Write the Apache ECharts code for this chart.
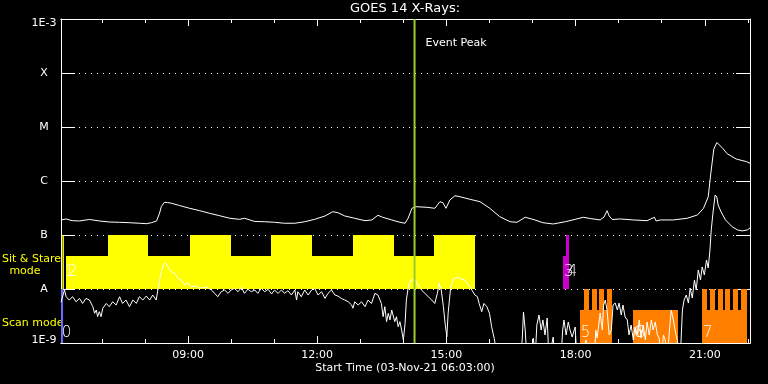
<!DOCTYPE html>
<html><head><meta charset="utf-8">
<script src="https://cdn.jsdelivr.net/npm/echarts@6/dist/echarts.min.js"></script>
<style>html,body{margin:0;padding:0;background:#000}#c{width:768px;height:384px}</style>
</head><body><div id="c"></div>
<script>
const chartTitle = 'GOES 14 X-Rays:';
const xTitle = 'Start Time (03-Nov-21 06:03:00)';
const tStart = 6.05, tEnd = 22.05;            // decimal hours, 03-Nov-21
const majorHours = [9, 12, 15, 18, 21];
const minorHours = [7, 8, 10, 11, 13, 14, 16, 17, 19, 20, 22];
const yTickLabels = ['1E-9', 'A', 'B', 'C', 'M', 'X', '1E-3'];
const eventPeak = 14.26;
const eventText = 'Event Peak';

// GOES long channel (1-8 A), [hour, W/m^2]
const longChannel = [
[6.05,1.90e-7],[6.17,1.98e-7],[6.31,1.84e-7],[6.48,1.82e-7],[6.71,1.94e-7],[6.94,1.82e-7],[7.17,1.74e-7],[7.41,1.72e-7],[7.64,1.69e-7],[7.87,1.65e-7],
[8.04,1.62e-7],[8.15,1.69e-7],[8.27,1.82e-7],[8.34,2.56e-7],[8.38,3.37e-7],[8.45,4.03e-7],[8.52,4.0e-7],[8.62,3.86e-7],[8.8,3.52e-7],[9.04,3.12e-7],
[9.27,2.82e-7],[9.5,2.52e-7],[9.73,2.28e-7],[9.97,2.04e-7],[10.2,1.95e-7],[10.31,2.04e-7],[10.55,1.78e-7],[10.78,1.76e-7],[11.01,1.72e-7],[11.24,1.65e-7],
[11.48,1.65e-7],[11.71,1.76e-7],[11.94,1.95e-7],[12.18,2.25e-7],[12.36,2.70e-7],[12.48,2.59e-7],[12.64,2.25e-7],[12.87,2.04e-7],[13.11,1.84e-7],[13.27,1.90e-7],
[13.41,2.32e-7],[13.52,2.13e-7],[13.73,1.90e-7],[13.92,1.72e-7],[14.04,1.65e-7],[14.11,2.04e-7],[14.2,3.12e-7],[14.29,3.34e-7],[14.55,3.26e-7],[14.73,3.12e-7],
[14.85,4.14e-7],[14.92,3.96e-7],[14.99,3.12e-7],[15.08,4.45e-7],[15.2,5.34e-7],[15.31,5.12e-7],[15.55,4.58e-7],[15.78,4.14e-7],[16.01,3.12e-7],[16.24,2.18e-7],
[16.48,1.76e-7],[16.64,1.72e-7],[16.83,2.13e-7],[17.01,1.95e-7],[17.24,1.69e-7],[17.48,1.60e-7],[17.76,1.76e-7],[17.99,1.95e-7],[18.18,2.13e-7],[18.34,2.02e-7],
[18.57,1.90e-7],[18.66,2.15e-7],[18.73,2.82e-7],[18.78,2.25e-7],[18.85,1.94e-7],[19.04,1.98e-7],[19.34,1.90e-7],[19.66,1.84e-7],[19.83,2.13e-7],[19.87,1.82e-7],
[19.97,1.90e-7],[20.27,1.90e-7],[20.59,2.04e-7],[20.83,2.35e-7],[20.97,3.12e-7],[21.08,5.12e-7],[21.14,1.39e-6],[21.21,3.91e-6],[21.28,5.16e-6],[21.4,4.17e-6],
[21.52,3.20e-6],[21.73,2.55e-6],[21.97,2.28e-6],[22.05,2.13e-6]
];

// GOES short channel (0.5-4 A), [hour, W/m^2]
const shortChannel = [
[6.05,5.7e-9],[6.08,5.5e-9],[6.13,9.6e-9],[6.17,7.2e-9],[6.24,6.25e-9],[6.32,7.2e-9],[6.4,5.8e-9],[6.48,6.7e-9],[6.55,5.4e-9],[6.63,6.7e-9],
[6.71,6.25e-9],[6.79,4.7e-9],[6.83,3.55e-9],[6.87,4.08e-9],[6.9,3.07e-9],[6.94,3.8e-9],[6.98,3.07e-9],[7.02,4.4e-9],[7.1,5.4e-9],[7.17,4.7e-9],
[7.25,5.8e-9],[7.33,5.05e-9],[7.41,7.2e-9],[7.48,5.4e-9],[7.56,6.25e-9],[7.64,4.7e-9],[7.72,6.25e-9],[7.8,5.4e-9],[7.87,7.2e-9],[7.95,6.25e-9],
[8.03,7.4e-9],[8.11,6.25e-9],[8.18,7.74e-9],[8.26,6.25e-9],[8.3,9.6e-9],[8.34,1.47e-8],[8.38,2.09e-8],[8.43,2.9e-8],[8.48,2.99e-8],[8.53,2.59e-8],
[8.61,2.09e-8],[8.69,1.95e-8],[8.76,1.58e-8],[8.84,1.47e-8],[8.92,1.19e-8],[9.0,1.31e-8],[9.07,1.1e-8],[9.19,1.14e-8],[9.31,1.03e-8],[9.42,1.1e-8],
[9.54,9.6e-9],[9.62,8.3e-9],[9.69,7.2e-9],[9.77,8.9e-9],[9.85,9.6e-9],[9.93,8.3e-9],[10.0,9.6e-9],[10.08,1.03e-8],[10.16,8.9e-9],[10.24,1.07e-8],
[10.31,8.3e-9],[10.39,9.9e-9],[10.47,8.9e-9],[10.55,9.6e-9],[10.62,8.3e-9],[10.7,1.03e-8],[10.78,8.9e-9],[10.86,9.9e-9],[10.94,8.1e-9],[11.01,9.6e-9],
[11.09,8.3e-9],[11.17,9.6e-9],[11.24,8.3e-9],[11.32,9.3e-9],[11.4,7.74e-9],[11.48,9.6e-9],[11.52,6.25e-9],[11.55,8.9e-9],[11.63,7.2e-9],[11.71,9.6e-9],
[11.79,7.74e-9],[11.87,9.6e-9],[11.94,1.03e-8],[12.02,7.74e-9],[12.1,8.9e-9],[12.18,6.7e-9],[12.25,8.3e-9],[12.33,9.6e-9],[12.41,7.74e-9],[12.48,7.4e-9],
[12.56,6.7e-9],[12.64,6.25e-9],[12.72,5.8e-9],[12.8,5.05e-9],[12.83,4.4e-9],[12.87,5.8e-9],[12.95,5.05e-9],[13.03,5.8e-9],[13.11,4.7e-9],[13.18,6.25e-9],
[13.26,5.4e-9],[13.34,8.3e-9],[13.41,7.74e-9],[13.49,5.4e-9],[13.53,3.07e-9],[13.57,4.7e-9],[13.61,2.48e-9],[13.65,3.55e-9],[13.69,2.67e-9],[13.73,4.08e-9],
[13.8,2.48e-9],[13.84,3.07e-9],[13.88,2.0e-9],[13.92,2.48e-9],[13.96,1.74e-9],[14.0,1.14e-9],[14.04,2.3e-9],[14.07,6.25e-9],[14.11,1.03e-8],[14.17,1.47e-8],
[14.21,1.58e-8],[14.27,1.47e-8],[14.34,1.19e-8],[14.42,9.6e-9],[14.5,8.3e-9],[14.58,7.2e-9],[14.66,6.25e-9],[14.73,5.4e-9],[14.79,8.3e-9],[14.83,1.27e-8],
[14.88,9.6e-9],[14.93,4.7e-9],[14.97,2.3e-9],[15.01,1.31e-9],[15.04,3.55e-9],[15.1,1.1e-8],[15.17,1.58e-8],[15.27,1.62e-8],[15.35,1.53e-8],[15.43,1.47e-8],
[15.51,1.19e-8],[15.59,9.6e-9],[15.66,7.74e-9],[15.72,7.2e-9],[15.76,5.4e-9],[15.82,3.8e-9],[15.87,5.4e-9],[15.94,4.7e-9],[16.0,3.55e-9],[16.05,2.0e-9],
[16.11,1.22e-9],[16.15,8e-10],[16.24,5e-10],[16.71,5e-10],[16.76,1.14e-9],[16.79,3.75e-9],[16.83,1.74e-9],[16.87,5e-10],[16.99,5e-10],[17.02,1.24e-9],
[17.06,5e-10],[17.1,2.15e-9],[17.15,3.3e-9],[17.2,1.74e-9],[17.24,2.67e-9],[17.29,1.41e-9],[17.34,2.9e-9],[17.38,5e-10],[17.48,1.29e-9],[17.52,5e-10],
[17.66,5e-10],[17.7,1.74e-9],[17.73,2.67e-9],[17.78,1.41e-9],[17.83,2.45e-9],[17.87,1.74e-9],[17.92,1.29e-9],[17.99,1.98e-9],[18.03,5e-10],[18.2,5e-10],
[18.24,1.14e-9],[18.29,5e-10],[18.43,5e-10],[18.47,1.74e-9],[18.5,1.24e-9],[18.57,3.59e-9],[18.62,1.74e-9],[18.65,5.05e-9],[18.69,6.25e-9],[18.73,4.08e-9],
[18.78,1.41e-9],[18.83,1.74e-9],[18.87,5.05e-9],[18.92,5.5e-9],[18.97,4.08e-9],[19.01,5.5e-9],[19.06,3.3e-9],[19.1,5.05e-9],[19.15,3.03e-9],[19.2,2.67e-9],
[19.24,1.41e-9],[19.29,2.15e-9],[19.34,1.14e-9],[19.38,1.98e-9],[19.43,1.41e-9],[19.48,2.67e-9],[19.52,1.24e-9],[19.57,2.15e-9],[19.62,1.14e-9],[19.66,2.45e-9],
[19.71,1.41e-9],[19.76,2.67e-9],[19.8,1.74e-9],[19.85,2.45e-9],[19.9,1.41e-9],[19.94,1.24e-9],[19.99,5e-10],[20.04,1.41e-9],[20.08,1.14e-9],[20.13,5e-10],
[20.18,1.74e-9],[20.22,4.08e-9],[20.27,2.67e-9],[20.31,1.74e-9],[20.36,1.14e-9],[20.43,5e-10],[20.48,4.08e-9],[20.52,6.25e-9],[20.57,7.74e-9],[20.62,5.5e-9],
[20.66,1.04e-8],[20.71,6.8e-9],[20.76,1.47e-8],[20.8,9.6e-9],[20.85,2.25e-8],[20.9,1.47e-8],[20.94,2.55e-8],[20.99,1.82e-8],[21.04,3.44e-8],[21.08,2.45e-8],
[21.12,5.27e-8],[21.15,1.24e-7],[21.19,2.55e-7],[21.24,5.5e-7],[21.28,5.05e-7],[21.31,3.59e-7],[21.38,2.67e-7],[21.48,1.9e-7],[21.64,1.41e-7],[21.76,1.24e-7],
[21.87,1.19e-7],[21.99,1.24e-7],[22.05,1.35e-7]
];

// Observing-mode blocks: [start hour, end hour, bottom flux, top flux]
const sitStareBlocks = [
[6.17,7.13,1e-8,4.08e-8],[7.13,8.08,1e-8,1e-7],[8.08,9.04,1e-8,4.08e-8],[9.04,9.99,1e-8,1e-7],[9.99,10.92,1e-8,4.08e-8],
[10.92,11.88,1e-8,1e-7],[11.88,12.83,1e-8,4.08e-8],[12.83,13.78,1e-8,1e-7],[13.78,14.71,1e-8,4.08e-8],[14.71,15.66,1e-8,1e-7]
];
const magentaBlocks = [[17.71,17.85,1e-8,4.08e-8],[17.78,17.85,1e-8,1e-7]];
const scanBlocks = [
[18.105,18.85,1e-9,4.08e-9],[18.2,18.31,1e-9,1e-8],[18.38,18.5,1e-9,1e-8],[18.55,18.66,1e-9,1e-8],[18.73,18.85,1e-9,1e-8],
[19.34,20.38,1e-9,4.08e-9],
[20.94,21.97,1e-9,4.08e-9],[20.94,21.06,1e-9,1e-8],[21.13,21.24,1e-9,1e-8],[21.31,21.43,1e-9,1e-8],[21.48,21.59,1e-9,1e-8],[21.66,21.78,1e-9,1e-8],[21.83,21.97,1e-9,1e-8]
];
const blueLine = [[6.075,1e-9],[6.075,1e-8]];
const yellowLine = [[6.1,1e-8],[6.1,1e-7]];
const peakLine = [[eventPeak,1e-9],[eventPeak,1e-3]];

// Block labels
const blockLabelPos = [[6.07,1.53e-9],[6.13,2.07e-8],[6.21,2.07e-8],[17.73,2.07e-8],[17.82,2.07e-8],[18.12,1.53e-9],[19.35,1.53e-9],[19.4,1.53e-9],[20.96,1.53e-9]];
const blockLabelText = ['0','1','2','3','4','5','6','8','7'];

const FF = '"DejaVu Sans", sans-serif';
const chart = echarts.init(document.getElementById('c'), null, {renderer: 'canvas'});

function blockRender(params, api) {
  const p0 = api.coord([api.value(0), api.value(3)]);
  const p1 = api.coord([api.value(1), api.value(2)]);
  const x0 = Math.round(p0[0]), x1 = Math.round(p1[0]);
  const y0 = Math.round(p0[1]), y1 = Math.round(p1[1]);
  const cs = params.coordSys;
  const shape = echarts.graphic.clipRectByRect(
    {x: x0, y: y0, width: x1 - x0, height: y1 - y0},
    {x: cs.x, y: cs.y, width: cs.width, height: cs.height});
  return shape && {type: 'rect', shape: shape, style: {fill: api.visual('color'), stroke: null}};
}
function blockSeries(data, color) {
  return {type: 'custom', data: data, renderItem: blockRender, itemStyle: {color: color},
    encode: {x: [0, 1], y: [2, 3]}, silent: true, z: 2, animation: false};
}
function lineSeries(data, color, width, z) {
  return {type: 'line', data: data, showSymbol: false, symbol: 'none', clip: true, z: z,
    lineStyle: {color: color, width: width}, animation: false, silent: true};
}
function xAx(pos, ticks, len, labels) {
  return {type: 'value', position: pos, min: tStart, max: tEnd,
    axisLine: {show: true, lineStyle: {color: '#fff', width: 1}},
    axisTick: {show: true, inside: true, length: len, customValues: ticks, lineStyle: {color: '#fff'}},
    axisLabel: labels ? {show: true, customValues: ticks, color: '#fff', fontSize: 11, fontFamily: FF, margin: 7,
      formatter: v => String(Math.round(v)).padStart(2, '0') + ':00'} : {show: false},
    splitLine: {show: false}};
}
function yAx(pos, isMain) {
  return {type: 'log', logBase: 10, position: pos, min: 1e-9, max: 1e-3, splitNumber: 6,
    axisLine: {show: true, lineStyle: {color: '#fff', width: 1}},
    axisTick: {show: true, inside: true, length: 14, lineStyle: {color: '#fff'}},
    axisLabel: isMain ? {show: true, color: '#fff', fontSize: 11, fontFamily: FF, margin: 17, align: 'center',
      formatter: v => {
        const i = Math.round(Math.log10(v)) + 9;
        if (i === 0) return '{b|' + yTickLabels[i] + '}';
        if (i === 6) return '{t|' + yTickLabels[i] + '}';
        return yTickLabels[i];
      },
      rich: {t: {color: '#fff', fontSize: 11, fontFamily: FF, padding: [8, 0, 0, 0]},
             b: {color: '#fff', fontSize: 11, fontFamily: FF, padding: [0, 0, 6, 0]}}} : {show: false},
    splitLine: isMain ? {show: true, lineStyle: {color: '#fff', width: 1, type: [1, 5]}} : {show: false}};
}

const option = {
  backgroundColor: '#000',
  animation: false,
  grid: {left: 61, top: 19, width: 689, height: 324, containLabel: false},
  xAxis: [xAx('bottom', majorHours, 7, true), xAx('bottom', minorHours, 4, false),
          xAx('top', majorHours, 7, false), xAx('top', minorHours, 4, false)],
  yAxis: [yAx('left', true), yAx('right', false)],
  graphic: [
    {type: 'text', x: 405, y: 9, style: {text: chartTitle, fill: '#fff', font: '13px ' + FF, align: 'center', verticalAlign: 'middle'}},
    {type: 'text', x: 405, y: 368, style: {text: xTitle, fill: '#fff', font: '11px ' + FF, align: 'center', verticalAlign: 'middle'}},
    {type: 'text', x: 2, y: 259, style: {text: 'Sit & Stare', fill: '#ffff00', font: '11px ' + FF, align: 'left', verticalAlign: 'middle'}},
    {type: 'text', x: 25, y: 271, style: {text: 'mode', fill: '#ffff00', font: '11px ' + FF, align: 'center', verticalAlign: 'middle'}},
    {type: 'text', x: 2, y: 323, style: {text: 'Scan mode', fill: '#ffff00', font: '11px ' + FF, align: 'left', verticalAlign: 'middle'}}
  ],
  series: [
    blockSeries(sitStareBlocks, '#ffff00'),
    blockSeries(magentaBlocks, '#cc00cc'),
    blockSeries(scanBlocks, '#ff8000'),
    lineSeries(blueLine, '#6464ff', 2, 3),
    lineSeries(yellowLine, '#ffff00', 1.5, 3),
    lineSeries(longChannel, '#ffffff', 1, 5),
    lineSeries(shortChannel, '#ffffff', 1, 5),
    lineSeries(peakLine, '#9acd32', 2, 6),
    {type: 'custom', data: blockLabelPos, z: 7, silent: true, animation: false, clip: false,
      renderItem: (params, api) => {
        const p = api.coord([api.value(0), api.value(1)]);
        return {type: 'text', x: p[0], y: p[1], style: {text: blockLabelText[params.dataIndex], fill: '#ffffff',
          font: '200 15px ' + FF, align: 'left', verticalAlign: 'middle'}};
      }},
    {type: 'custom', data: [[eventPeak, 1e-3]], z: 7, silent: true, animation: false, clip: false,
      renderItem: (params, api) => {
        const p = api.coord([api.value(0), api.value(1)]);
        return {type: 'text', x: p[0] + 11, y: p[1] + 24, style: {text: eventText, fill: '#fff',
          font: '11px ' + FF, align: 'left', verticalAlign: 'middle'}};
      }}
  ]
};
chart.setOption(option);
</script>
</body></html>
